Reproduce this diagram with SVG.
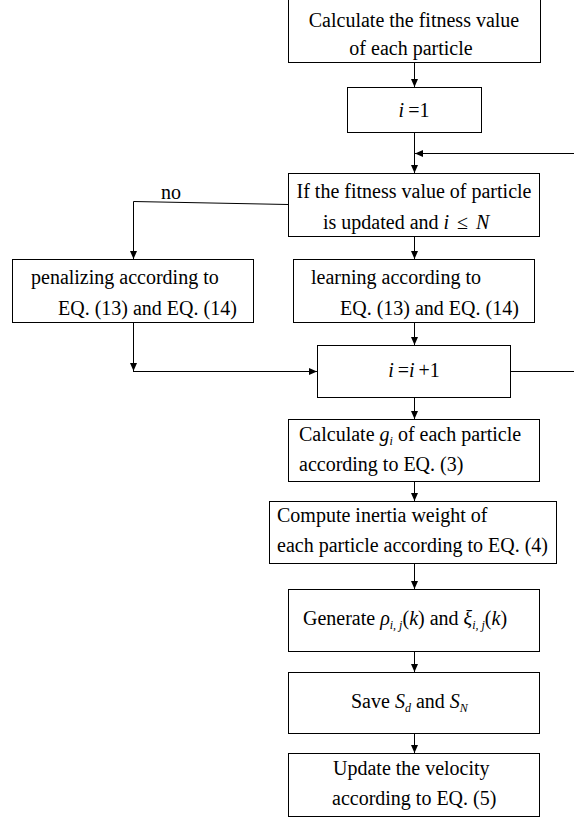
<svg xmlns="http://www.w3.org/2000/svg" width="574" height="823" viewBox="0 0 574 823">
<style>
.box{fill:#fff;stroke:#000;stroke-width:1}
.t{font-family:"Liberation Serif","Times New Roman",serif;font-size:20px;fill:#000}
.c{text-anchor:middle}
.m{font-style:italic}
.s{font-style:italic;font-size:12px}
.ln{fill:none;stroke:#000;stroke-width:1}
</style>
<defs>
<marker id="ah" markerWidth="8" markerHeight="8" refX="8" refY="3.5" orient="auto" markerUnits="userSpaceOnUse">
<path d="M0,0 L8,3.5 L0,7 z" fill="#000"/>
</marker>
</defs>
<rect width="574" height="823" fill="#fff"/>
<g id="connectors">
<path class="ln" d="M414.5,62 V87" marker-end="url(#ah)"/>
<path class="ln" d="M414.5,133 V173" marker-end="url(#ah)"/>
<path class="ln" d="M574,153.5 H415" marker-end="url(#ah)" stroke="#444"/>
<path class="ln" d="M414.5,237 V259" marker-end="url(#ah)"/>
<path class="ln" d="M288,204.5 L133.5,201.5 V259" marker-end="url(#ah)"/>
<path class="ln" d="M133.5,323 V371" marker-end="url(#ah)"/>
<path class="ln" d="M133,371.5 H317" marker-end="url(#ah)"/>
<path class="ln" d="M414.5,323 V345" marker-end="url(#ah)"/>
<path class="ln" d="M511,371.5 H574" stroke="#444"/>
<path class="ln" d="M414.5,398 V419" marker-end="url(#ah)"/>
<path class="ln" d="M414.5,482 V501" marker-end="url(#ah)"/>
<path class="ln" d="M414.5,564 V589" marker-end="url(#ah)"/>
<path class="ln" d="M414.5,652 V672" marker-end="url(#ah)"/>
<path class="ln" d="M414.5,734 V753" marker-end="url(#ah)"/>
</g>
<g id="no-label"><text class="t" x="161" y="199">no</text></g>
<g id="n-fitness">
<rect class="box" x="288.5" y="-5" width="252" height="67.5"/>
<text class="t c" x="414" y="27">Calculate the fitness value</text>
<text class="t c" x="411" y="55">of each particle</text>
</g>
<g id="n-i1">
<rect class="box" x="347.5" y="87.5" width="134" height="45"/>
<text class="t c" x="414" y="117"><tspan class="m">i</tspan><tspan dx="4">=1</tspan></text>
</g>
<g id="n-decision">
<rect class="box" x="288.5" y="173.5" width="251" height="63"/>
<text class="t c" x="414" y="198">If the fitness value of particle</text>
<text class="t" x="323" y="229">is updated and <tspan class="m">i</tspan><tspan dx="8">≤</tspan><tspan class="m" dx="8">N</tspan></text>
</g>
<g id="n-penalize">
<rect class="box" x="12.5" y="259.5" width="241" height="63"/>
<text class="t" x="31" y="284">penalizing according to</text>
<text class="t" x="58" y="315">EQ. (13) and EQ. (14)</text>
</g>
<g id="n-learning">
<rect class="box" x="293.5" y="259.5" width="241" height="63"/>
<text class="t" x="311" y="284">learning according to</text>
<text class="t" x="340" y="315">EQ. (13) and EQ. (14)</text>
</g>
<g id="n-inc">
<rect class="box" x="317.5" y="345.5" width="193" height="52"/>
<text class="t c" x="414" y="377"><tspan class="m">i</tspan><tspan dx="4">=</tspan><tspan class="m">i</tspan><tspan dx="4">+1</tspan></text>
</g>
<g id="n-calcg">
<rect class="box" x="288.5" y="419.5" width="251" height="62"/>
<text class="t" x="299" y="441">Calculate <tspan class="m">g</tspan><tspan class="s" dy="4">i</tspan><tspan dy="-4" dx="5">of each particle</tspan></text>
<text class="t" x="299" y="471">according to EQ. (3)</text>
</g>
<g id="n-compute">
<rect class="box" x="269.5" y="501.5" width="287" height="62"/>
<text class="t" x="277" y="522">Compute inertia weight of</text>
<text class="t" x="277" y="552">each particle according to EQ. (4)</text>
</g>
<g id="n-generate">
<rect class="box" x="288.5" y="589.5" width="251" height="62"/>
<text class="t" x="303" y="625">Generate <tspan class="m">ρ</tspan><tspan class="s" dy="4">i, j</tspan><tspan dy="-4">(</tspan><tspan class="m">k</tspan>) and <tspan class="m">ξ</tspan><tspan class="s" dy="4">i, j</tspan><tspan dy="-4">(</tspan><tspan class="m">k</tspan>)</text>
</g>
<g id="n-save">
<rect class="box" x="288.5" y="672.5" width="251" height="61"/>
<text class="t" x="351" y="708">Save <tspan class="m">S</tspan><tspan class="s" dy="4">d</tspan><tspan dy="-4"> and </tspan><tspan class="m">S</tspan><tspan class="s" dy="4">N</tspan></text>
</g>
<g id="n-update">
<rect class="box" x="288.5" y="753.5" width="251" height="63"/>
<text class="t" x="333" y="775">Update the velocity</text>
<text class="t" x="332" y="805">according to EQ. (5)</text>
</g>
</svg>
